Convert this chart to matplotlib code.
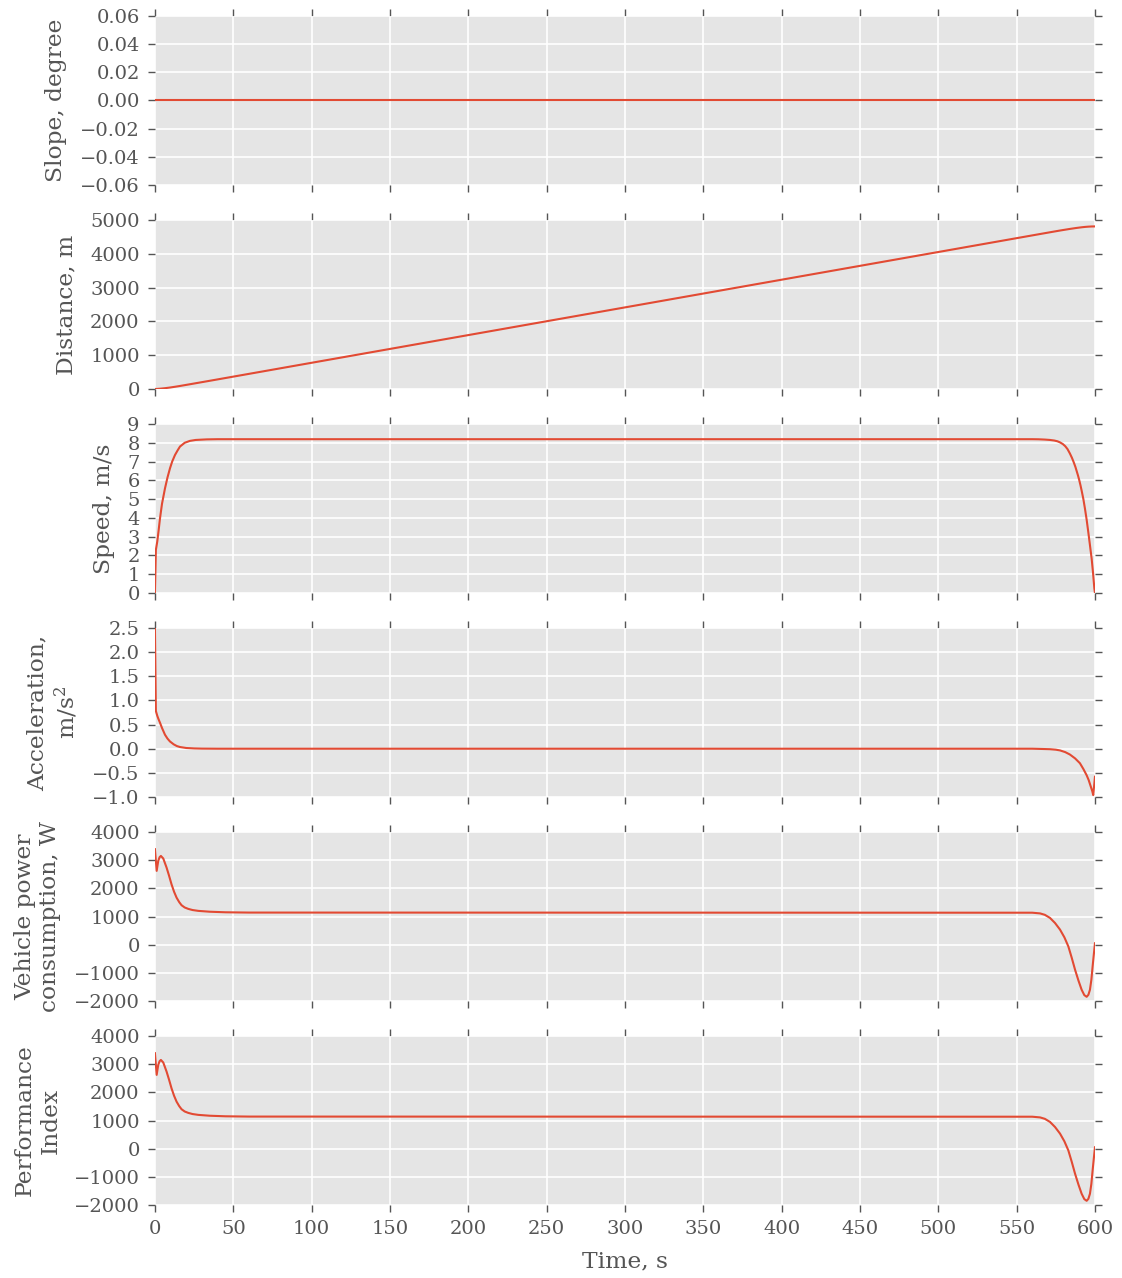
import matplotlib
matplotlib.use("Agg")
import matplotlib.pyplot as plt
import matplotlib.ticker as mticker
import numpy as np

# ---------------- data ----------------
slope_time = [0, 600]
slope_values = [0.0, 0.0]

dist_time = [0, 0.6, 1.5, 3.2, 6.4, 9.6, 12.8, 16, 22, 33, 40, 565, 571.3, 577.7,
             584, 588.3, 591.5, 593.6, 595.7, 597.9, 600]
dist_values = [0, 0.7, 2.9, 8.5, 24, 43.5, 66, 90, 138, 227, 284, 4585, 4636.5, 4688,
               4735.5, 4765, 4784, 4794.5, 4802.5, 4808, 4810]

speed_time = [0, 0.6, 1.5, 2.3, 3.2, 4.5, 6.4, 8, 9.6, 11, 12.8, 14.5, 16, 19, 22.3,
              26, 33, 40, 560, 564, 568, 571.3, 574, 576, 577.7, 579.5, 581, 582.5,
              584, 585.3, 586.5, 587.5, 588.3, 589.2, 590, 590.8, 591.5, 592.6, 593.6,
              594.7, 595.7, 596.8, 597.9, 598.8, 599.6, 600]
speed_values = [0, 2.3, 2.75, 3.3, 3.96, 4.75, 5.57, 6.15, 6.64, 7.0, 7.35, 7.6, 7.8,
                8.0, 8.1, 8.15, 8.18, 8.19, 8.19, 8.185, 8.17, 8.15, 8.12, 8.08,
                8.02, 7.93, 7.82, 7.66, 7.43, 7.2, 6.95, 6.72, 6.5, 6.25, 6.0, 5.72, 5.45,
                5.0, 4.5, 3.9, 3.27, 2.55, 1.82, 1.05, 0.25, 0.0]

accel_time = [0, 0.6, 1.5, 2.3, 3.2, 4.5, 6.4, 8, 9.6, 12, 14, 16, 20, 25, 30, 40,
              560, 566, 571.3, 575, 577.7, 581, 584, 587.3, 590.4, 592.6, 594.7, 596,
              597.4, 598.3, 598.9, 600]
accel_values = [2.5, 0.78, 0.68, 0.61, 0.54, 0.43, 0.29, 0.21, 0.15, 0.09, 0.055,
                0.035, 0.015, 0.006, 0.002, 0.0, 0.0, -0.005, -0.01, -0.02, -0.035,
                -0.07, -0.12, -0.2, -0.3, -0.42, -0.55, -0.65, -0.79, -0.88, -0.96, -0.58]

power_time = [0, 1.1, 2.1, 3, 3.8, 5.3, 7.4, 9, 10.6, 12.2, 13.8, 15.5, 17, 19, 21.3,
              24, 27.7, 35, 45, 60, 560, 565, 568, 571.3, 574.5, 577.7, 580.5, 583,
              585.2, 587.3, 589.5, 591.5, 593.2, 594.7, 595.8, 596.8, 597.7, 598.5,
              599.3, 600]
power_values = [3390, 2620, 2975, 3110, 3150, 3060, 2740, 2450, 2140, 1880, 1670, 1510,
                1400, 1320, 1270, 1230, 1200, 1170, 1150, 1140, 1135, 1110, 1060, 950,
                770, 535, 260, -60, -470, -890, -1280, -1600, -1790, -1850, -1780, -1600,
                -1250, -775, -330, 50]

perf_time = [0, 1.1, 2.1, 3, 3.8, 5.3, 7.4, 9, 10.6, 12.2, 13.8, 15.5, 17, 19, 21.3,
             24, 27.7, 35, 45, 60, 560, 565, 568, 571.3, 574.5, 577.7, 580.5, 583,
             585.2, 587.3, 589.5, 591.5, 593.2, 594.7, 595.8, 596.8, 597.7, 598.5,
             599.3, 600]
perf_values = [3390, 2620, 2975, 3110, 3150, 3060, 2740, 2450, 2140, 1880, 1670, 1510,
               1400, 1320, 1270, 1230, 1200, 1170, 1150, 1140, 1135, 1110, 1060, 950,
               770, 535, 260, -60, -470, -890, -1280, -1600, -1790, -1850, -1780, -1600,
               -1250, -775, -330, 50]

ylabels = ["Slope, degree", "Distance, m", "Speed, m/s", "Acceleration,\nm/s$^2$",
           "Vehicle power\nconsumption, W", "Performance\nIndex"]
ylims = [(-0.06, 0.06), (0, 5000), (0, 9), (-1.0, 2.5), (-2000, 4000), (-2000, 4000)]
yticks = [np.arange(-0.06, 0.0601, 0.02), np.arange(0, 5001, 1000), np.arange(0, 10, 1),
          np.arange(-1.0, 2.51, 0.5), np.arange(-2000, 4001, 1000),
          np.arange(-2000, 4001, 1000)]
yfmts = ["{:.2f}", "{:.0f}", "{:.0f}", "{:.1f}", "{:.0f}", "{:.0f}"]
xticks = list(range(0, 601, 50))

# ---------------- style ----------------
plt.style.use("ggplot")
plt.rcParams["font.family"] = ["DejaVu Serif"]
plt.rcParams["mathtext.fontset"] = "dejavuserif"
plt.rcParams["font.size"] = 14
plt.rcParams["xtick.labelsize"] = 14
plt.rcParams["ytick.labelsize"] = 14
plt.rcParams["axes.labelsize"] = 16.8
plt.rcParams["axes.unicode_minus"] = True

fig, axes = plt.subplots(6, 1, figsize=(11.22, 12.78), dpi=100, sharex=True)
fig.subplots_adjust(left=0.1381, right=0.9759, top=0.9875, bottom=0.0571, hspace=0.207)

series = [(slope_time, slope_values), (dist_time, dist_values), (speed_time, speed_values),
          (accel_time, accel_values), (power_time, power_values), (perf_time, perf_values)]


def make_fmt(f):
    def _fmt(x, pos):
        s = f.format(x)
        if s.startswith("-") and float(s) == 0:
            s = s[1:]
        return s.replace("-", "\u2212")
    return mticker.FuncFormatter(_fmt)


for i, ax in enumerate(axes):
    t, v = series[i]
    ax.plot(t, v, color="#E24A33", lw=1.5)
    ax.set_xlim(0, 600)
    ax.set_ylim(*ylims[i])
    ax.set_yticks(yticks[i])
    ax.set_xticks(xticks)
    ax.yaxis.set_major_formatter(make_fmt(yfmts[i]))
    ax.set_ylabel(ylabels[i], color="#555555", multialignment="center", labelpad=9)
    ax.tick_params(axis="both", which="major", direction="out", top=True, right=True,
                   length=5, width=1, color="#555555", labelcolor="#555555",
                   labelsize=14, pad=6)
    ax.grid(True, color="white", lw=1.2)
    for s in ax.spines.values():
        s.set_visible(False)

axes[-1].set_xlabel("Time, s", color="#555555", labelpad=9)

fig.savefig("out.png", dpi=100, facecolor="white")
